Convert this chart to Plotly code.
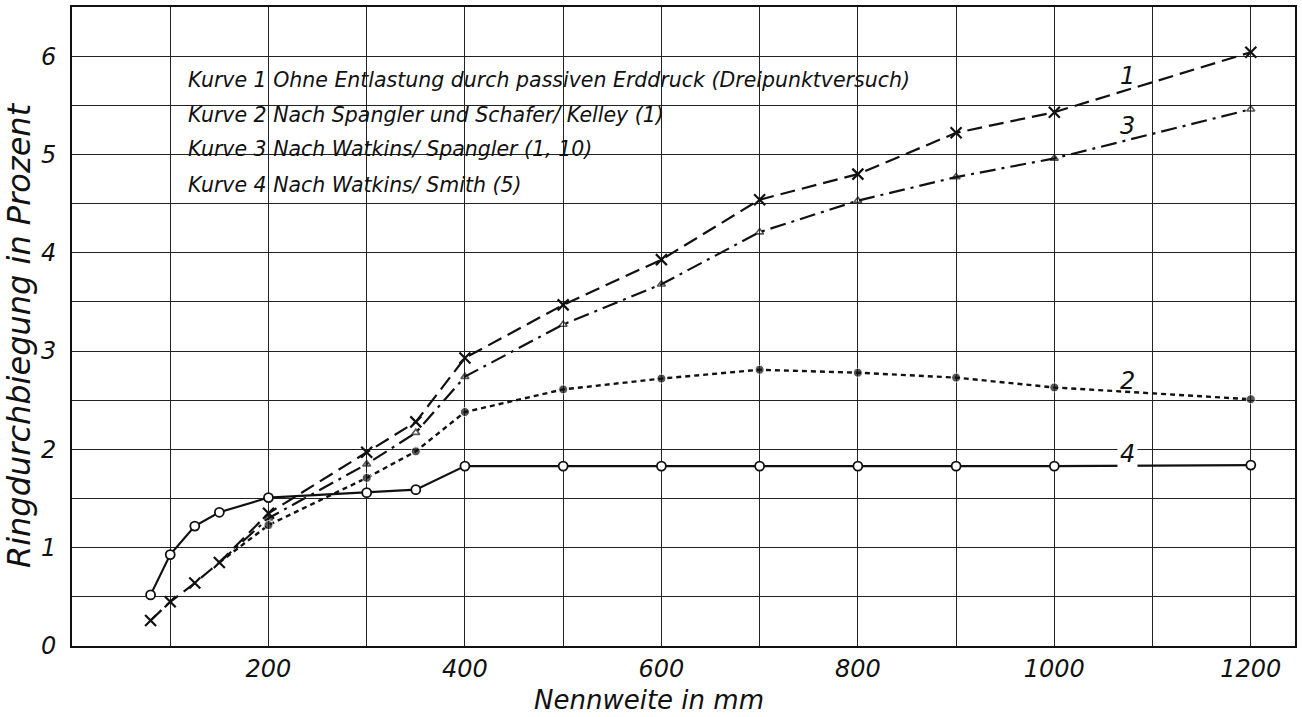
import plotly.graph_objects as go

# ---- data ----
nennweite = [80, 100, 125, 150, 200, 300, 350, 400, 500, 600, 700, 800, 900, 1000, 1200]
kurve1 = [0.26, 0.45, 0.64, 0.85, 1.35, 1.97, 2.28, 2.93, 3.47, 3.93, 4.54, 4.80, 5.22, 5.43, 6.04]
nennweite23 = [150, 200, 300, 350, 400, 500, 600, 700, 800, 900, 1000, 1200]
kurve2 = [0.85, 1.23, 1.71, 1.98, 2.38, 2.61, 2.72, 2.81, 2.78, 2.73, 2.63, 2.51]
kurve3 = [0.85, 1.30, 1.85, 2.17, 2.74, 3.27, 3.68, 4.21, 4.53, 4.77, 4.96, 5.46]
kurve4 = [0.52, 0.93, 1.22, 1.36, 1.51, 1.56, 1.59, 1.83, 1.83, 1.83, 1.83, 1.83, 1.83, 1.83, 1.84]

x_grid = [0, 100, 200, 300, 400, 500, 600, 700, 800, 900, 1000, 1100, 1200]
x_ticktext = ["", "", "200", "", "400", "", "600", "", "800", "", "1000", "", "1200"]
y_grid = [0, 0.5, 1, 1.5, 2, 2.5, 3, 3.5, 4, 4.5, 5, 5.5, 6, 6.5]
y_ticktext = ["0", "", "1", "", "2", "", "3", "", "4", "", "5", "", "6", ""]

legend_lines = [
    "Kurve 1 Ohne Entlastung durch passiven Erddruck (Dreipunktversuch)",
    "Kurve 2 Nach Spangler und Schafer/ Kelley (1)",
    "Kurve 3 Nach Watkins/ Spangler (1, 10)",
    "Kurve 4 Nach Watkins/ Smith (5)",
]
curve_labels = ["1", "3", "2", "4"]
curve_label_x = [1074, 1074, 1074, 1074]
curve_label_y = [5.80, 5.29, 2.70, 1.95]

x_title = "Nennweite in mm"
y_title = "Ringdurchbiegung in Prozent"

# ---- layout geometry ----
W, H = 1302, 717
L, R, T, B = 72, 1297, 7, 646
FONT = "DejaVu Sans"


def px(xp):
    return (xp - L) / (R - L)


def py(yp):
    return (B - yp) / (B - T)


fig = go.Figure()

fig.add_trace(go.Scatter(
    x=nennweite23, y=kurve3, mode="lines+markers",
    line=dict(color="#111", width=2.2, dash="16px,6px,3px,6px"),
    marker=dict(symbol="triangle-up-open", size=[0] + [7] * (len(kurve3) - 1),
                color="#111", line=dict(width=1.6)),
    showlegend=False))
fig.add_trace(go.Scatter(
    x=nennweite23, y=kurve2, mode="lines+markers",
    line=dict(color="#111", width=2.4, dash="5px,4px"),
    marker=dict(symbol="circle", size=[0] + [9] * (len(kurve2) - 1), color="#111"),
    showlegend=False))
fig.add_trace(go.Scatter(
    x=nennweite, y=kurve1, mode="lines+markers",
    line=dict(color="#111", width=2.2, dash="15px,7px"),
    marker=dict(symbol="x-thin", size=11, color="#111", line=dict(width=2.2, color="#111")),
    showlegend=False))
fig.add_trace(go.Scatter(
    x=nennweite, y=kurve4, mode="lines+markers",
    line=dict(color="#111", width=2.2),
    marker=dict(symbol="circle", size=9, color="white", line=dict(width=1.8, color="#111")),
    showlegend=False))

# white blocks behind the legend text (cover the grid)
blocks = [(180, 945, 62, 97), (180, 708, 97, 132), (180, 632, 132, 167), (180, 600, 167, 199)]
shapes = []
for x0, x1, y0, y1 in blocks:
    shapes.append(dict(type="rect", xref="paper", yref="paper",
                       x0=px(x0), x1=px(x1), y0=py(y1), y1=py(y0),
                       fillcolor="white", line=dict(width=0), layer="between"))

annotations = []
row_y = [80, 115, 149, 185]
for txt, yy in zip(legend_lines, row_y):
    annotations.append(dict(text=txt, xref="paper", yref="paper", x=px(186), y=py(yy),
                            xanchor="left", yanchor="middle", showarrow=False,
                            font=dict(family=FONT, size=20.5, style="italic", color="#111")))
for t, xx, yy in zip(curve_labels, curve_label_x, curve_label_y):
    annotations.append(dict(text=t, x=xx, y=yy, xref="x", yref="y", showarrow=False,
                            xanchor="center", yanchor="middle",
                            bgcolor="white" if t == "4" else None, borderpad=2,
                            font=dict(family=FONT, size=24, style="italic", color="#111")))
annotations.append(dict(text=x_title, xref="paper", yref="paper", x=px(650), y=py(700),
                        xanchor="center", yanchor="middle", showarrow=False,
                        font=dict(family=FONT, size=26, style="italic", color="#111")))
annotations.append(dict(text=y_title, xref="paper", yref="paper", x=px(19), y=py(335),
                        xanchor="center", yanchor="middle", showarrow=False, textangle=-90,
                        font=dict(family=FONT, size=32, style="italic", color="#111")))

axis_common = dict(showgrid=True, gridcolor="#222", gridwidth=1.4, zeroline=False,
                   showline=True, mirror=True, linecolor="#111", linewidth=2,
                   ticks="", tickfont=dict(family=FONT, size=24, style="italic", color="#111"))

fig.update_layout(
    width=W, height=H,
    margin=dict(l=L, r=W - R, t=T, b=H - B),
    paper_bgcolor="white", plot_bgcolor="white",
    xaxis=dict(range=[0, 1245], tickvals=x_grid, ticktext=x_ticktext,
               ticklabelstandoff=0, **axis_common),
    yaxis=dict(range=[0, 6.5], tickvals=y_grid, ticktext=y_ticktext,
               ticklabelstandoff=9, **axis_common),
    shapes=shapes, annotations=annotations,
)

fig.write_html("out.html")
